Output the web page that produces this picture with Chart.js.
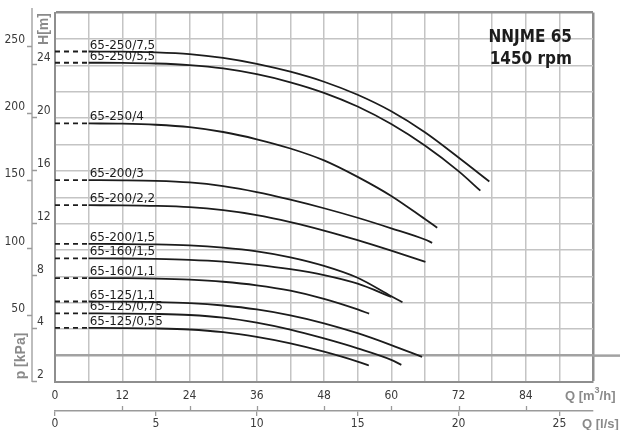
<!DOCTYPE html>
<html>
<head>
<meta charset="utf-8">
<script src="https://cdn.jsdelivr.net/npm/chart.js@4.4.1/dist/chart.umd.min.js"></script>
<style>
  html, body { margin: 0; padding: 0; background: #fff; overflow: hidden; }
</style>
</head>
<body>
<canvas id="pumpchart" width="620" height="430"></canvas>
<script>
// Flow points (m3/h) where each curve was read
var flowSteps = [6, 12, 18, 24, 30, 36, 42, 48, 54, 60, 66, 72];

// Pump names, one per curve
var pumpNames = ['65-250/7,5', '65-250/5,5', '65-250/4', '65-200/3', '65-200/2,2',
    '65-200/1,5', '65-160/1,5', '65-160/1,1', '65-125/1,1', '65-125/0,75', '65-125/0,55'];

// Head H [m] of each curve at the flow steps
var head250_75 = [25.05, 25.04, 24.99, 24.86, 24.57, 24.12, 23.52, 22.76, 21.77, 20.52, 18.93, 17.02];
var head250_55 = [24.2, 24.19, 24.14, 24.02, 23.77, 23.33, 22.72, 21.92, 20.88, 19.55, 17.92, 15.98];
var head250_4 = [19.6, 19.58, 19.5, 19.32, 18.95, 18.4, 17.7, 16.8, 15.55, 14.1, 12.35];
var head200_3 = [15.3, 15.29, 15.25, 15.13, 14.85, 14.4, 13.82, 13.17, 12.45, 11.65, 10.8];
var head200_22 = [13.4, 13.39, 13.35, 13.25, 13.02, 12.65, 12.12, 11.48, 10.75, 9.95];
var head200_15 = [10.47, 10.46, 10.43, 10.35, 10.18, 9.9, 9.45, 8.8, 7.9, 6.5];
var head160_15 = [9.37, 9.36, 9.33, 9.26, 9.12, 8.88, 8.55, 8.1, 7.45];
var head160_11 = [7.88, 7.87, 7.84, 7.76, 7.6, 7.33, 6.92, 6.3, 5.5];
var head125_11 = [6.1, 6.09, 6.06, 5.98, 5.8, 5.5, 5.05, 4.45, 3.7, 2.8];
var head125_075 = [5.2, 5.19, 5.16, 5.08, 4.88, 4.5, 3.97, 3.3, 2.55, 1.68];
var head125_055 = [4.1, 4.09, 4.06, 3.98, 3.78, 3.42, 2.93, 2.3, 1.55];

// Last point of each curve
var endFlow = [77.5, 75.9, 68.2, 67.3, 66.1, 62.0, 60.0, 56.05, 65.5, 61.8, 56.0];
var endHead = [15.2, 14.5, 11.7, 10.55, 9.1, 6.05, 6.45, 5.18, 1.9, 1.3, 1.25];

// Tick labels
var flowLabels = [0, 12, 24, 36, 48, 60, 72, 84];          // m3/h
var headTicks = [0, 4, 8, 12, 16, 20, 24];                 // m
var headTickText = ['2', '4', '8', '12', '16', '20', '24'];
var pressureLabels = [50, 100, 150, 200, 250];             // kPa

var heads = [head250_75, head250_55, head250_4, head200_3, head200_22, head200_15,
    head160_15, head160_11, head125_11, head125_075, head125_055];

var numFont = { family: '"Liberation Sans Narrow", "DejaVu Sans Condensed", sans-serif', size: 12 };
var numColor = '#3a3a3a';
var gridColor = '#c4c4c4';
var frameColor = '#8e8e8e';

var datasets = [];
heads.forEach(function (h, i) {
    var pts = h.map(function (v, j) { return { x: flowSteps[j], y: v }; });
    pts.push({ x: endFlow[i], y: endHead[i] });
    datasets.push({
        data: pts,
        borderColor: '#1c1c1c',
        borderWidth: 1.8,
        pointRadius: 0,
        cubicInterpolationMode: 'monotone',
        fill: false
    });
    // shut-off part, dashed
    datasets.push({
        data: [{ x: 0, y: h[0] }, { x: flowSteps[0], y: h[0] }],
        borderColor: '#1c1c1c',
        borderWidth: 1.8,
        borderDash: [5, 4],
        pointRadius: 0,
        fill: false
    });
});

// texts and small axis pieces that Chart.js has no option for
var decor = {
    id: 'decor',
    afterDatasetsDraw: function (chart) {
        var ctx = chart.ctx, a = chart.chartArea, s = chart.scales;
        ctx.save();

        // H = 2 m line runs on past the frame
        var y2 = s.y.getPixelForValue(2);
        ctx.strokeStyle = '#a2a2a2';
        ctx.lineWidth = 2.5;
        ctx.beginPath();
        ctx.moveTo(a.right, y2);
        ctx.lineTo(chart.width, y2);
        ctx.stroke();

        // left axis line with kPa stubs (left) and m stubs (right)
        var ax = s.p.right - 5;
        ctx.strokeStyle = '#9a9a9a';
        ctx.lineWidth = 1.3;
        ctx.beginPath();
        ctx.moveTo(ax, 8);
        ctx.lineTo(ax, a.bottom);
        pressureLabels.forEach(function (v) {
            var py = Math.round(s.p.getPixelForValue(v)) + 0.5;
            ctx.moveTo(ax - 5, py);
            ctx.lineTo(ax, py);
        });
        headTicks.forEach(function (v) {
            var py = Math.round(s.y.getPixelForValue(v)) - 0.5;
            ctx.moveTo(ax, py);
            ctx.lineTo(ax + 5, py);
        });
        // m3/h stubs on top of the l/s line
        flowLabels.forEach(function (v) {
            if (v === 0) return;
            var px = Math.round(s.x.getPixelForValue(v)) + 0.5;
            ctx.moveTo(px, s.q2.top);
            ctx.lineTo(px, s.q2.top - 5);
        });
        ctx.stroke();

        // curve names
        ctx.fillStyle = '#1c1c1c';
        ctx.font = '12px "DejaVu Sans", sans-serif';
        ctx.textAlign = 'left';
        ctx.textBaseline = 'alphabetic';
        heads.forEach(function (h, i) {
            var px = s.x.getPixelForValue(flowSteps[0]) + 1;
            var py = s.y.getPixelForValue(h[0]) - 3;
            ctx.fillText(pumpNames[i], px, py);
        });

        // title
        ctx.font = 'bold 17px "DejaVu Sans Condensed", "DejaVu Sans", sans-serif';
        ctx.textAlign = 'right';
        ctx.fillText('NNJME 65', a.right - 21, 42);
        ctx.fillText('1450 rpm', a.right - 21, 64);

        // axis titles
        ctx.fillStyle = '#8a8a8a';
        ctx.textAlign = 'left';
        ctx.textBaseline = 'middle';
        ctx.font = 'bold 13px "Liberation Sans", sans-serif';
        var tx = 565, ty = 396;
        ctx.fillText('Q [m', tx, ty);
        tx += ctx.measureText('Q [m').width;
        ctx.font = 'bold 9px "Liberation Sans", sans-serif';
        ctx.fillText('3', tx, ty - 5);
        tx += ctx.measureText('3').width;
        ctx.font = 'bold 13px "Liberation Sans", sans-serif';
        ctx.fillText('/h]', tx, ty);
        ctx.fillText('Q [l/s]', 582, 424);

        ctx.textAlign = 'center';
        ctx.font = 'bold 14px "Liberation Sans", sans-serif';
        ctx.translate(44, 29);
        ctx.rotate(-Math.PI / 2);
        ctx.fillText('H[m]', 0, 0);
        ctx.setTransform(1, 0, 0, 1, 0, 0);
        ctx.translate(21, 356);
        ctx.rotate(-Math.PI / 2);
        ctx.fillText('p [kPa]', 0, 0);
        ctx.restore();
    }
};

var ctx = document.getElementById('pumpchart').getContext('2d');

var pumpchart = new Chart(ctx, {
    type: 'line',
    data: { datasets: datasets },
    plugins: [decor],
    options: {
        responsive: false,
        animation: false,
        layout: { padding: { top: 12, right: 27, left: 0, bottom: 0 } },
        plugins: { legend: { display: false }, tooltip: { enabled: false } },
        scales: {
            x: {
                type: 'linear', position: 'bottom', weight: 0,
                min: 0, max: 96,
                ticks: {
                    stepSize: 6, autoSkip: false, maxRotation: 0, padding: 7,
                    font: numFont, color: numColor,
                    callback: function (v) { return flowLabels.indexOf(v) >= 0 ? v : ''; }
                },
                grid: {
                    drawTicks: false,
                    color: function (c) { return c.tick && c.tick.value === 96 ? frameColor : gridColor; },
                    lineWidth: function (c) { return c.tick && c.tick.value === 96 ? 2.5 : 1.5; }
                },
                border: { display: true, color: frameColor, width: 2 },
                afterFit: function (sc) { sc.height = 29; }
            },
            q2: {
                type: 'linear', position: 'bottom', weight: 1,
                min: 0, max: 96 / 3.6,
                ticks: {
                    stepSize: 5, includeBounds: false, autoSkip: false, maxRotation: 0, padding: 1,
                    font: numFont, color: numColor
                },
                grid: { drawOnChartArea: false, drawTicks: true, tickLength: 5, color: '#9a9a9a', lineWidth: 1.3 },
                border: { display: true, color: '#9a9a9a', width: 1.5 },
                afterFit: function (sc) { sc.height = 19; }
            },
            y: {
                type: 'linear', position: 'left', weight: 0,
                min: 0, max: 28,
                ticks: {
                    stepSize: 2, autoSkip: false, crossAlign: 'far', labelOffset: -7,
                    font: numFont, color: numColor,
                    callback: function (v) {
                        var i = headTicks.indexOf(v);
                        return i < 0 ? '' : headTickText[i];
                    }
                },
                grid: {
                    drawTicks: false,
                    color: function (c) {
                        if (!c.tick) return gridColor;
                        if (c.tick.value === 28) return frameColor;
                        if (c.tick.value === 2) return '#a2a2a2';
                        return gridColor;
                    },
                    lineWidth: function (c) {
                        if (!c.tick) return 1.5;
                        if (c.tick.value === 28) return 2.5;
                        if (c.tick.value === 2) return 2.5;
                        return 1.5;
                    }
                },
                border: { display: true, color: frameColor, width: 2 },
                afterFit: function (sc) { sc.width = 18; }
            },
            p: {
                type: 'linear', position: 'left', weight: 1,
                min: 0, max: 28 * 9.81,
                ticks: {
                    stepSize: 50, includeBounds: false, autoSkip: false, padding: 12, labelOffset: -6,
                    font: { family: numFont.family, size: 12, lineHeight: 0.1 }, color: numColor,
                    callback: function (v) { return pressureLabels.indexOf(v) >= 0 ? v : ''; }
                },
                grid: { display: false, drawTicks: false },
                border: { display: false },
                afterFit: function (sc) { sc.width = 37; }
            }
        }
    }
});
</script>
</body>
</html>
